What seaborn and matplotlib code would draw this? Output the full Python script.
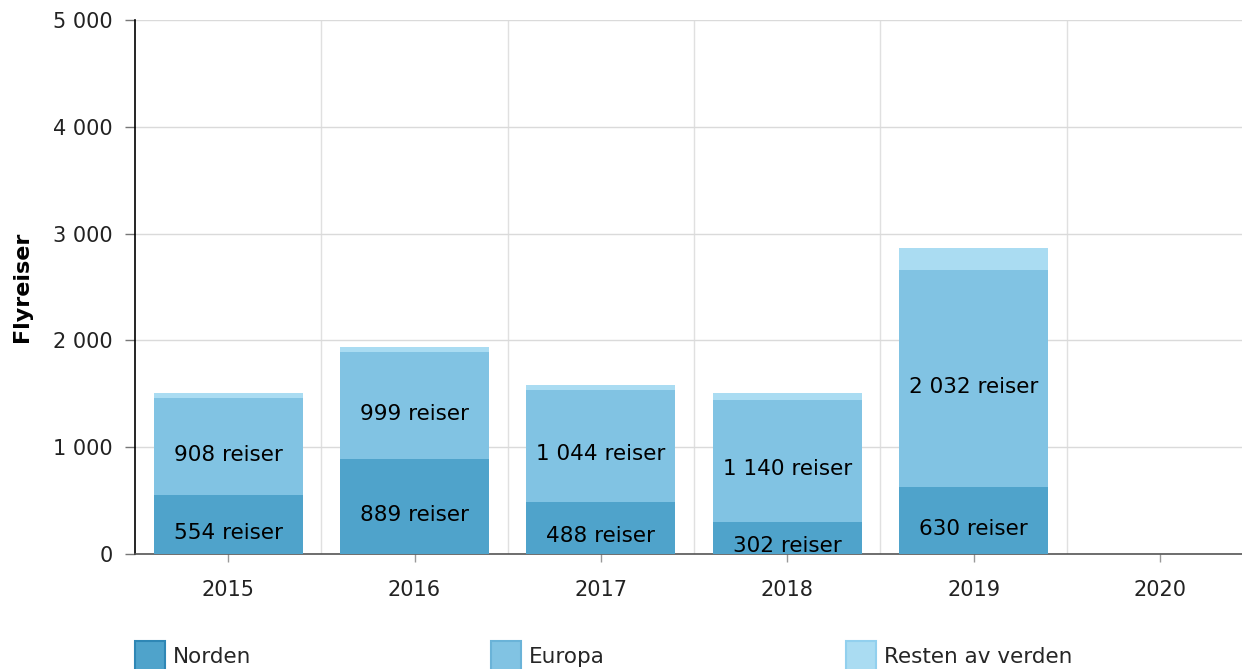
import matplotlib
matplotlib.use("Agg")
import matplotlib.pyplot as plt
import seaborn as sns
import pandas as pd
import numpy as np
from matplotlib.patches import Patch

years = ["2015", "2016", "2017", "2018", "2019", "2020"]
norden = [554, 889, 488, 302, 630, np.nan]
europa = [908, 999, 1044, 1140, 2032, np.nan]
resten = [48, 52, 50, 65, 205, np.nan]
series_names = ["Norden", "Europa", "Resten av verden"]
colors = ["#4fa3cb", "#81c3e3", "#aadcf2"]
edge_colors = ["#2f87b5", "#6ab3d8", "#92d0ee"]
yticks = [0, 1000, 2000, 3000, 4000, 5000]
ytick_labels = ["0", "1 000", "2 000", "3 000", "4 000", "5 000"]

sns.set_theme(style="white")
plt.rcParams["font.family"] = ["DejaVu Sans"]

fig = plt.figure(figsize=(12.42, 6.69), dpi=100)
ax = fig.add_axes([135 / 1242, 1 - 554 / 669, 1 - 135 / 1242, (554 - 20) / 669])

df = pd.DataFrame({"year": years, "Norden": norden, "Europa": europa, "Resten": resten})
cols = ["Norden", "Europa", "Resten"]
mask = df["Norden"].notna().to_numpy()
bottom = np.zeros(len(years))
for i, c in enumerate(cols):
    vals = df[c].to_numpy(dtype=float)
    sns.barplot(x=df["year"], y=df[c], order=years, color=colors[i], width=0.8,
                bottom=bottom[mask], saturation=1, ax=ax, zorder=3,
                linewidth=0, errorbar=None)
    if c != "Resten":
        for xi, (v, b) in enumerate(zip(vals, bottom)):
            if np.isnan(v):
                continue
            lab = f"{int(v):,}".replace(",", " ") + " reiser"
            t = ax.annotate(lab, xy=(xi, b + v / 2), xytext=(0, -6), textcoords="offset points",
                            ha="center", va="center", fontsize=15.5, color="black", zorder=5)
            t.set_clip_on(True)
    bottom = bottom + np.nan_to_num(vals)

ax.set_ylim(0, 5000)
ax.set_xlim(-0.5, 5.44)
ax.set_yticks(yticks)
ax.set_yticklabels(ytick_labels, fontsize=15, color="#222222")
ax.set_xticks(range(len(years)))
ax.set_xticklabels(years, fontsize=15, color="#222222")
ax.set_xlabel("")
ax.set_ylabel("Flyreiser", fontsize=16, fontweight="bold", color="black")
ax.yaxis.set_label_coords((32 - 135) / 1107, 0.5)

# grid
ax.grid(axis="y", color="#dadada", linewidth=1, zorder=0)
ax.set_axisbelow(True)
for xb in np.arange(0.5, 5.0, 1.0):
    ax.axvline(xb, color="#e0e0e0", linewidth=1, zorder=0)

for s in ["top", "right"]:
    ax.spines[s].set_visible(False)
ax.spines["left"].set_color("black")
ax.spines["left"].set_linewidth(1.2)
ax.spines["bottom"].set_color("#555555")
ax.spines["bottom"].set_linewidth(1.2)
ax.tick_params(axis="y", direction="out", length=7, width=1, color="#777777", pad=9, left=True)
ax.tick_params(axis="x", direction="out", length=6, width=1, color="#999999", pad=12.5, bottom=True)

# legend: three separate items
xpos = [135, 491, 846]
for i in range(3):
    h = Patch(facecolor=colors[i], edgecolor=edge_colors[i], linewidth=1.5)
    leg = fig.legend(handles=[h], labels=[series_names[i]], loc="upper left",
                     bbox_to_anchor=(xpos[i] / 1242, 1 - 641 / 669), frameon=False,
                     fontsize=15.5, handlelength=1.4, handleheight=1.75, handletextpad=0.35,
                     borderaxespad=0, borderpad=0)

fig.savefig("out.png", dpi=100)
